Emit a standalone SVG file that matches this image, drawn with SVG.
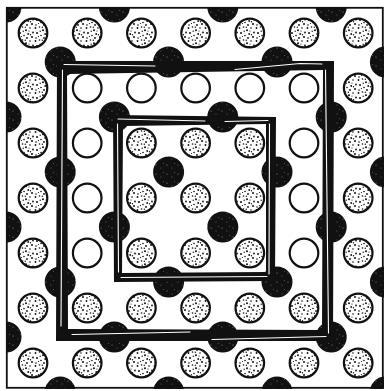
<svg xmlns="http://www.w3.org/2000/svg" width="384" height="391" viewBox="0 0 384 391">
<defs>
<pattern id="st" patternUnits="userSpaceOnUse" width="17" height="13">
<rect width="17" height="13" fill="#fff"/>
<g fill="#111">
<circle cx="1.5" cy="2" r="0.9"/><circle cx="5.5" cy="1" r="0.8"/><circle cx="9" cy="4.2" r="1"/>
<circle cx="13" cy="2" r="0.8"/><circle cx="16" cy="6.5" r="0.9"/><circle cx="3" cy="7" r="1"/>
<circle cx="7" cy="9.5" r="0.8"/><circle cx="11.2" cy="8" r="0.9"/><circle cx="15" cy="11" r="1"/>
<circle cx="2" cy="12" r="0.8"/><circle cx="6.2" cy="5.2" r="0.7"/><circle cx="10" cy="12" r="0.9"/>
<circle cx="13.5" cy="8.8" r="0.7"/><circle cx="8.3" cy="1.3" r="0.7"/><circle cx="12" cy="5" r="0.6"/>
<circle cx="4.5" cy="10.5" r="0.6"/>
</g>
</pattern>
<pattern id="bk" patternUnits="userSpaceOnUse" width="11" height="9">
<rect width="11" height="9" fill="#111"/>
<g fill="#fff" opacity="0.6">
<circle cx="2" cy="3" r="0.5"/><circle cx="7" cy="6" r="0.45"/><circle cx="9.5" cy="1.5" r="0.4"/>
</g>
</pattern>
<clipPath id="fr"><rect x="6" y="7" width="378" height="382"/></clipPath>
<style>
.s{fill:url(#st);stroke:#111;stroke-width:2.2}
.o{fill:#fff;stroke:#111;stroke-width:2.2}
.b{fill:url(#bk)}
.band{fill:#111;fill-rule:evenodd}
.sl{fill:none;stroke:#fff;stroke-width:1.1;stroke-linecap:round}
</style>
</defs>
<rect width="384" height="391" fill="#fff"/>
<g id="lattice" clip-path="url(#fr)">
<g id="grid-circles">
<circle class="s" cx="33" cy="33" r="14.3"/><circle class="s" cx="87.2" cy="33" r="14.3"/><circle class="s" cx="141.4" cy="33" r="14.3"/><circle class="s" cx="195.6" cy="33" r="14.3"/><circle class="s" cx="249.8" cy="33" r="14.3"/><circle class="s" cx="304" cy="33" r="14.3"/><circle class="s" cx="358.2" cy="33" r="14.3"/>
<circle class="s" cx="33" cy="88" r="14.3"/><circle class="o" cx="87.2" cy="88" r="14.3"/><circle class="o" cx="141.4" cy="88" r="14.3"/><circle class="o" cx="195.6" cy="88" r="14.3"/><circle class="o" cx="249.8" cy="88" r="14.3"/><circle class="o" cx="304" cy="88" r="14.3"/><circle class="s" cx="358.2" cy="88" r="14.3"/>
<circle class="s" cx="33" cy="143" r="14.3"/><circle class="o" cx="87.2" cy="143" r="14.3"/><circle class="s" cx="141.4" cy="143" r="14.3"/><circle class="s" cx="195.6" cy="143" r="14.3"/><circle class="s" cx="249.8" cy="143" r="14.3"/><circle class="o" cx="304" cy="143" r="14.3"/><circle class="s" cx="358.2" cy="143" r="14.3"/>
<circle class="s" cx="33" cy="198" r="14.3"/><circle class="o" cx="87.2" cy="198" r="14.3"/><circle class="s" cx="141.4" cy="198" r="14.3"/><circle class="s" cx="195.6" cy="198" r="14.3"/><circle class="s" cx="249.8" cy="198" r="14.3"/><circle class="o" cx="304" cy="198" r="14.3"/><circle class="s" cx="358.2" cy="198" r="14.3"/>
<circle class="s" cx="33" cy="253" r="14.3"/><circle class="o" cx="87.2" cy="253" r="14.3"/><circle class="s" cx="141.4" cy="253" r="14.3"/><circle class="s" cx="195.6" cy="253" r="14.3"/><circle class="s" cx="249.8" cy="253" r="14.3"/><circle class="o" cx="304" cy="253" r="14.3"/><circle class="s" cx="358.2" cy="253" r="14.3"/>
<circle class="s" cx="33" cy="308" r="14.3"/><circle class="s" cx="87.2" cy="308" r="14.3"/><circle class="s" cx="141.4" cy="308" r="14.3"/><circle class="s" cx="195.6" cy="308" r="14.3"/><circle class="s" cx="249.8" cy="308" r="14.3"/><circle class="s" cx="304" cy="308" r="14.3"/><circle class="s" cx="358.2" cy="308" r="14.3"/>
<circle class="s" cx="33" cy="363" r="14.3"/><circle class="s" cx="87.2" cy="363" r="14.3"/><circle class="s" cx="141.4" cy="363" r="14.3"/><circle class="s" cx="195.6" cy="363" r="14.3"/><circle class="s" cx="249.8" cy="363" r="14.3"/><circle class="s" cx="304" cy="363" r="14.3"/><circle class="s" cx="358.2" cy="363" r="14.3"/>
</g>
<g id="black-circles">
<circle class="b" cx="6" cy="7" r="15.5"/><circle class="b" cx="114.4" cy="7" r="15.5"/><circle class="b" cx="222.8" cy="7" r="15.5"/><circle class="b" cx="331.2" cy="7" r="15.5"/>
<circle class="b" cx="60.2" cy="62" r="15.5"/><circle class="b" cx="168.6" cy="62" r="15.5"/><circle class="b" cx="277" cy="62" r="15.5"/><circle class="b" cx="385.4" cy="62" r="15.5"/>
<circle class="b" cx="6" cy="117" r="15.5"/><circle class="b" cx="114.4" cy="117" r="15.5"/><circle class="b" cx="222.8" cy="117" r="15.5"/><circle class="b" cx="331.2" cy="117" r="15.5"/>
<circle class="b" cx="60.2" cy="172" r="15.5"/><circle class="b" cx="168.6" cy="172" r="15.5"/><circle class="b" cx="277" cy="172" r="15.5"/><circle class="b" cx="385.4" cy="172" r="15.5"/>
<circle class="b" cx="6" cy="227" r="15.5"/><circle class="b" cx="114.4" cy="227" r="15.5"/><circle class="b" cx="222.8" cy="227" r="15.5"/><circle class="b" cx="331.2" cy="227" r="15.5"/>
<circle class="b" cx="60.2" cy="282" r="15.5"/><circle class="b" cx="168.6" cy="282" r="15.5"/><circle class="b" cx="277" cy="282" r="15.5"/><circle class="b" cx="385.4" cy="282" r="15.5"/>
<circle class="b" cx="6" cy="337" r="15.5"/><circle class="b" cx="114.4" cy="337" r="15.5"/><circle class="b" cx="222.8" cy="337" r="15.5"/><circle class="b" cx="331.2" cy="337" r="15.5"/>
<circle class="b" cx="60.2" cy="392" r="15.5"/><circle class="b" cx="168.6" cy="392" r="15.5"/><circle class="b" cx="277" cy="392" r="15.5"/><circle class="b" cx="385.4" cy="392" r="15.5"/>
</g>
</g>
<g id="outer-square">
<path class="band" d="M57,61 L334,61 L333,341 L56,341 Z M67,74 L323,70 L322,330 L68,329 Z"/>
<path class="sl" d="M64,64.5 L155,66 M235,69.5 L300,63.5 L322,64 M325.5,70 L328.5,333 M326,336.5 L212,339.5 M190,332 L72,334.5 M61,326 L62.5,70"/>
</g>
<g id="inner-square">
<path class="band" d="M113,115 L276,117 L275,281 L114,282 Z M123,126 L266,124 L266,272 L122,273 Z"/>
<path class="sl" d="M118,119 L205,121 M225,121.5 L268,120.5 M269.5,124 L269,274 M267,276.5 L121,277.5 M118.5,272 L117.5,124"/>
</g>
<rect id="frame" x="6.8" y="7.8" width="376" height="380" fill="none" stroke="#111" stroke-width="1.8"/>
</svg>
